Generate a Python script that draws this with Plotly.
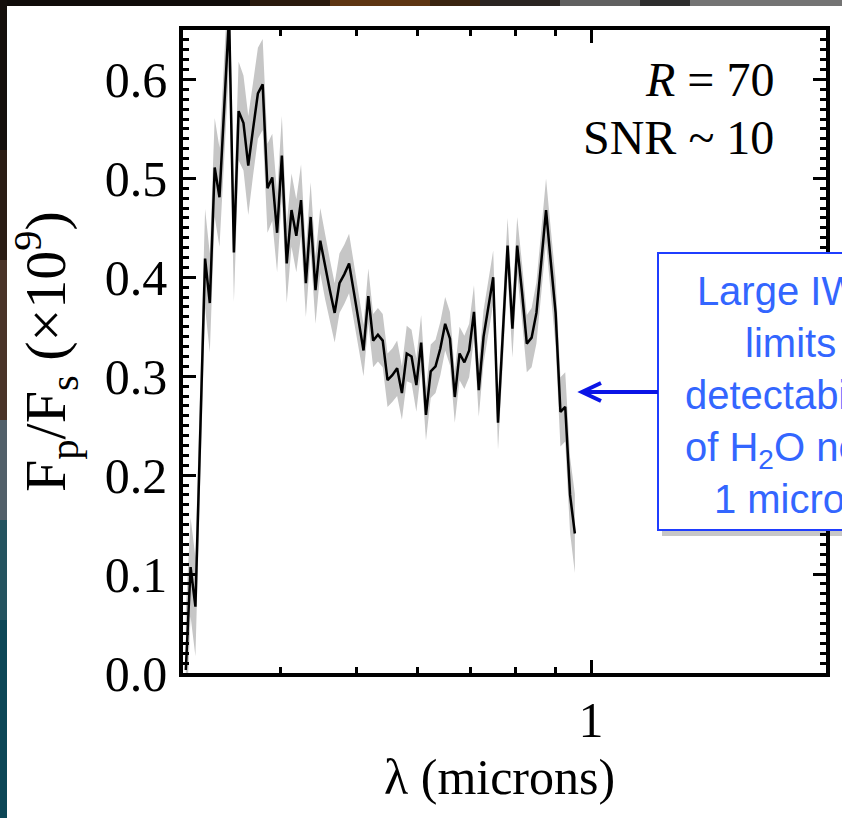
import plotly.graph_objects as go

# ---------------- data ----------------
wavelength = [0.3025, 0.3068, 0.3112, 0.3157, 0.3202, 0.3247, 0.3294, 0.3341, 0.3388, 0.3437,
              0.3486, 0.3535, 0.3586, 0.3637, 0.3689, 0.3742, 0.3795, 0.3849, 0.3904, 0.3960,
              0.4016, 0.4074, 0.4132, 0.4191, 0.4250, 0.4311, 0.4372, 0.4435, 0.4498, 0.4562,
              0.4627, 0.4693, 0.4760, 0.4828, 0.4897, 0.4967, 0.5038, 0.5110, 0.5183, 0.5257,
              0.5332, 0.5408, 0.5485, 0.5563, 0.5643, 0.5723, 0.5805, 0.5888, 0.5972, 0.6057,
              0.6144, 0.6231, 0.6320, 0.6410, 0.6502, 0.6595, 0.6689, 0.6784, 0.6881, 0.6979,
              0.7079, 0.7180, 0.7282, 0.7386, 0.7492, 0.7599, 0.7707, 0.7817, 0.7929, 0.8042,
              0.8157, 0.8273, 0.8391, 0.8511, 0.8632, 0.8756, 0.8881, 0.9007, 0.9136, 0.9266,
              0.9399, 0.9533]

flux = [0.003, 0.107, 0.067, 0.240, 0.419, 0.374, 0.511, 0.481, 0.570, 0.665,
        0.425, 0.568, 0.556, 0.513, 0.550, 0.586, 0.595, 0.490, 0.501, 0.445,
        0.523, 0.414, 0.468, 0.442, 0.478, 0.394, 0.461, 0.387, 0.437, 0.410,
        0.387, 0.364, 0.394, 0.403, 0.414, 0.385, 0.357, 0.326, 0.381, 0.336,
        0.342, 0.336, 0.296, 0.301, 0.308, 0.283, 0.323, 0.320, 0.291, 0.334,
        0.261, 0.305, 0.310, 0.328, 0.353, 0.338, 0.279, 0.323, 0.314, 0.326,
        0.365, 0.286, 0.340, 0.370, 0.400, 0.253, 0.340, 0.432, 0.348, 0.432,
        0.385, 0.333, 0.339, 0.364, 0.415, 0.468, 0.415, 0.364, 0.264, 0.269,
        0.180, 0.141]

flux_err = [0.060, 0.050, 0.050, 0.050, 0.050, 0.050, 0.050, 0.050, 0.050, 0.050,
            0.050, 0.050, 0.048, 0.050, 0.047, 0.046, 0.046, 0.045, 0.044, 0.040,
            0.040, 0.040, 0.037, 0.037, 0.036, 0.034, 0.035, 0.034, 0.033, 0.032,
            0.031, 0.030, 0.030, 0.030, 0.030, 0.029, 0.028, 0.026, 0.028, 0.027,
            0.027, 0.027, 0.027, 0.027, 0.028, 0.027, 0.028, 0.027, 0.027, 0.028,
            0.026, 0.027, 0.027, 0.027, 0.027, 0.027, 0.026, 0.027, 0.027, 0.027,
            0.027, 0.027, 0.027, 0.027, 0.027, 0.027, 0.028, 0.028, 0.029, 0.029,
            0.029, 0.029, 0.030, 0.031, 0.032, 0.032, 0.033, 0.034, 0.035, 0.035,
            0.038, 0.040]

y_tick_vals = [0.0, 0.1, 0.2, 0.3, 0.4, 0.5, 0.6]
y_tick_text = ["0.0", "0.1", "0.2", "0.3", "0.4", "0.5", "0.6"]
x_major_vals = [1.0]
x_major_text = ["1"]
x_minor_vals = [0.3, 0.4, 0.5, 0.6, 0.7, 0.8, 0.9, 2.0]

# ---------------- layout helpers ----------------
W, H = 842, 818
L, R, T, B = 183, 16, 30, 145
PW = W - L - R
PH = H - T - B


def px(x):
    return (x - L) / PW


def py(y):
    return (H - B - y) / PH


SERIF = "Liberation Serif, Times New Roman, serif"
SANS = "Liberation Sans, Arial, sans-serif"

upper = [f + e for f, e in zip(flux, flux_err)]
lower = [f - e for f, e in zip(flux, flux_err)]

fig = go.Figure()
fig.add_trace(go.Scatter(
    x=wavelength + wavelength[::-1],
    y=upper + lower[::-1],
    fill="toself", fillcolor="#c6c6c6",
    line=dict(width=0), mode="lines", hoverinfo="skip", showlegend=False))
fig.add_trace(go.Scatter(
    x=wavelength, y=flux, mode="lines",
    line=dict(color="black", width=2.5), showlegend=False))

shapes = []
# slide background strips (outside the white panel)
top_strip = [(0, 250, "#100c0a"), (250, 330, "#2a1a0e"), (330, 430, "#5e3512"),
             (430, 480, "#3a2410"), (480, 560, "#2a2522"), (560, 640, "#606060"),
             (640, 690, "#2e2e2e"), (690, 842, "#747474")]
for a, b, c in top_strip:
    shapes.append(dict(type="rect", xref="paper", yref="paper", x0=px(a), x1=px(b),
                       y0=py(6), y1=py(-2), fillcolor=c, line=dict(width=0), layer="below"))
left_strip = [(0, 150, "#140f0c"), (150, 260, "#2a1c14"), (260, 420, "#4a3428"),
              (420, 520, "#52606a"), (520, 620, "#24535f"), (620, 820, "#0c4656")]
for a, b, c in left_strip:
    shapes.append(dict(type="rect", xref="paper", yref="paper", x0=px(-2), x1=px(7),
                       y0=py(b), y1=py(a), fillcolor=c, line=dict(width=0), layer="below"))

# callout box: shadow + box
shapes.append(dict(type="rect", xref="paper", yref="paper", x0=px(662), x1=px(905),
                   y0=py(536), y1=py(258), fillcolor="rgba(0,0,0,0.22)",
                   line=dict(width=0)))
shapes.append(dict(type="rect", xref="paper", yref="paper", x0=px(658), x1=px(900),
                   y0=py(530), y1=py(253), fillcolor="white",
                   line=dict(color="#1f3dff", width=2)))
# arrow from box to the spectrum
shapes.append(dict(type="line", xref="paper", yref="paper", x0=px(658), x1=px(583),
                   y0=py(392), y1=py(392), line=dict(color="#0a14e6", width=4)))
shapes.append(dict(type="path", xref="paper", yref="paper",
                   path=f"M {px(601)},{py(383)} L {px(582)},{py(392)} L {px(601)},{py(401)}",
                   line=dict(color="#0a14e6", width=4)))

annotations = [
    dict(text="<i>R</i> = 70", x=px(776), y=py(79), xref="paper", yref="paper",
         xanchor="right", yanchor="middle", showarrow=False,
         font=dict(family=SERIF, size=48, color="black")),
    dict(text="SNR ~ 10", x=px(776), y=py(137), xref="paper", yref="paper",
         xanchor="right", yanchor="middle", showarrow=False,
         font=dict(family=SERIF, size=48, color="black")),
    dict(text="λ (microns)", x=px(499), y=py(777), xref="paper", yref="paper",
         xanchor="center", yanchor="middle", showarrow=False,
         font=dict(family=SERIF, size=50, color="black")),
    dict(text="F<sub>p</sub>/F<sub>s</sub> (×10<sup>9</sup>)", x=px(46), y=py(352),
         xref="paper", yref="paper", textangle=-90,
         xanchor="center", yanchor="middle", showarrow=False,
         font=dict(family=SERIF, size=58, color="black")),
    dict(text="Large IWA<br>limits<br>detectability<br>of H<sub>2</sub>O near<br>1 micron",
         x=px(790), y=py(395), xref="paper", yref="paper",
         xanchor="center", yanchor="middle", align="center", showarrow=False,
         font=dict(family=SANS, size=40, color="#3366ff")),
]

axis_common = dict(showline=True, linecolor="black", linewidth=3.5, mirror="ticks",
                   ticks="inside", tickcolor="black", tickwidth=3, ticklen=13,
                   showgrid=False, zeroline=False)

fig.update_layout(
    width=W, height=H,
    margin=dict(l=L, r=R, t=T, b=B),
    paper_bgcolor="white", plot_bgcolor="white",
    showlegend=False,
    shapes=shapes,
    annotations=annotations,
    xaxis=dict(type="log", range=[-0.52288, 0.30103], tickmode="array",
               tickvals=x_major_vals, ticktext=x_major_text,
               tickfont=dict(family=SERIF, size=50, color="black"),
               ticklabelstandoff=0,
               minor=dict(tickmode="array", tickvals=x_minor_vals, ticks="inside",
                          ticklen=6, tickwidth=3, tickcolor="black"),
               **axis_common),
    yaxis=dict(range=[0, 0.65], tickmode="array",
               tickvals=y_tick_vals, ticktext=y_tick_text,
               tickfont=dict(family=SERIF, size=50, color="black"),
               ticklabelstandoff=2,
               minor=dict(dtick=0.01, ticks="inside", ticklen=6, tickwidth=3,
                          tickcolor="black"),
               **axis_common),
)

fig.write_html("out.html")
